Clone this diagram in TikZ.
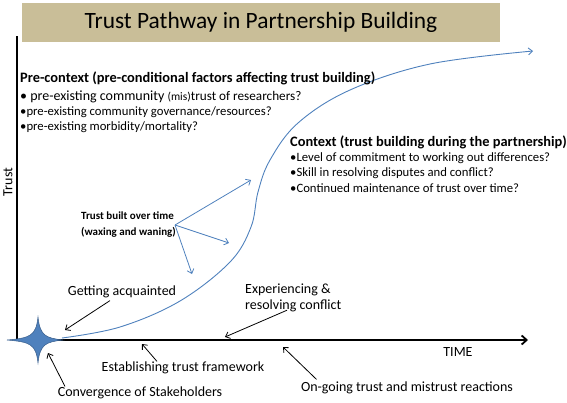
\documentclass[tikz,border=0pt]{standalone}
\usepackage{fontspec}
\setmainfont{Carlito}
\usetikzlibrary{arrows.meta,calc}
\definecolor{tan}{RGB}{201,190,152}
\definecolor{cblue}{RGB}{79,129,189}
\definecolor{cblueD}{RGB}{56,93,138}
\tikzset{
  lbl/.style={inner sep=0pt, anchor=west, align=left},
  barr/.style={draw=black, line width=0.8pt, -{Straight Barb[length=4pt,width=7pt]}},
  blarr/.style={draw=cblue, line width=0.8pt, -{Straight Barb[length=4pt,width=7pt]}},
  big/.style={font=\fontsize{14}{16}\selectfont},
  head/.style={font=\fontsize{14.4}{16}\selectfont\bfseries},
  item/.style={font=\fontsize{12.7}{15}\selectfont},
}
\begin{document}
\begin{tikzpicture}[x=1pt,y=-1pt]
\useasboundingbox (0,0) rectangle (567,402);
% title
\node[fill=tan, minimum width=478pt, minimum height=39pt, inner sep=0pt] (title) at (261,22.5)
  {\fontsize{23.4}{26}\selectfont Trust Pathway in Partnership Building};
% axes
\coordinate (origin) at (17,340);
\coordinate (ytop) at (17,36);
\coordinate (xend) at (528,340);
\draw[line width=1.3pt] (ytop) -- (origin);
\draw[line width=1.8pt, -{Straight Barb[length=5pt,width=9pt]}] (origin) -- (xend);
\node[rotate=90, big] (trust) at (8,182) {Trust};
\node[big] (time) at (458,352) {TIME};
% curve
\draw[cblue, line width=0.9pt, -{Straight Barb[length=4pt,width=7pt]}]
  plot[smooth, tension=0.6] coordinates {(62,338) (120,327) (180,301) (230,262) (251,227) (258,192) (270,160) (298,123) (350,90) (430,64) (533,51)};
% star
\filldraw[fill=cblue, draw=cblueD, line width=0.5pt]
  (7,340) .. controls (30,338) and (36,336) .. (38,317)
  .. controls (40,336) and (46,338) .. (63,340)
  .. controls (46,342) and (40,344) .. (38,363)
  .. controls (36,344) and (30,342) .. (7,340) -- cycle;
\node[inner sep=0pt] (star) at (38,340) {};
% pre-context
\node[lbl, head] (pre) at (20,78) {Pre-context (pre-conditional factors affecting trust building)};
\node[lbl] (pre1) at (20,97) {\fontsize{14}{16}\selectfont • pre-existing community {\fontsize{11.5}{13}\selectfont (mis)}{\fontsize{13.2}{15}\selectfont trust of researchers?}};
\node[lbl, item] (pre2) at (20,112) {•pre-existing community governance/resources?};
\node[lbl, item] (pre3) at (20,127) {•pre-existing morbidity/mortality?};
% context
\node[lbl, head] (ctx) at (290,142) {Context (trust building during the partnership)};
\node[lbl, item] (ctx1) at (290,158) {•Level of commitment to working out differences?};
\node[lbl, item] (ctx2) at (290,173) {•Skill in resolving disputes and conflict?};
\node[lbl, item] (ctx3) at (290,188) {•Continued maintenance of trust over time?};
% trust built
\node[lbl, font=\fontsize{11}{16}\selectfont\bfseries] (tb) at (81,225) {Trust built over time\\(waxing and waning)};
\coordinate (tbo) at (175,225);
\coordinate (tb1) at (251,180);
\coordinate (tb2) at (229,243);
\coordinate (tb3) at (192,274);
\draw[blarr] (tbo) -- (tb1);
\draw[blarr] (tbo) -- (tb2);
\draw[blarr] (tbo) -- (tb3);
% labels
\node[big] (ga) at (122,292) {Getting acquainted};
\coordinate (gat) at (65,330);
\draw[barr] ($(ga.south)+(-12,-1)$) -- (gat);
\node[lbl, big] (erc) at (245,298) {Experiencing \&\\resolving conflict};
\coordinate (erct) at (225,337);
\draw[barr] ($(erc.south west)+(42,-2)$) -- (erct);
\node[big] (etf) at (183,368) {Establishing trust framework};
\coordinate (etft) at (142,344);
\draw[barr] ($(etf.north)+(-26,3)$) -- (etft);
\node[big] (cos) at (140,393) {Convergence of Stakeholders};
\coordinate (cost) at (48,353);
\draw[barr] ($(cos.north)+(-75,3)$) -- (cost);
\node[big] (otm) at (407,388) {On-going trust and mistrust reactions};
\coordinate (otmt) at (283,347);
\draw[barr] ($(otm.north west)+(19,1)$) -- (otmt);
\end{tikzpicture}
\end{document}
